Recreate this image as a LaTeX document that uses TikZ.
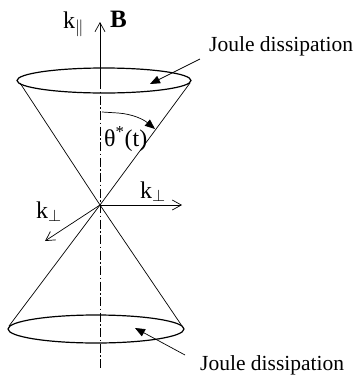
\RequirePackage{fix-cm}
\documentclass[tikz,border=0pt]{standalone}
\usepackage{fontspec}
\setmainfont{Liberation Serif}
\usetikzlibrary{arrows.meta,shapes.geometric}
\begin{document}
\begin{tikzpicture}[x=1pt,y=-1pt,
  thinl/.style={line width=0.7pt},
  ell/.style={draw, ellipse, line width=1.2pt, inner sep=0pt},
  barb/.style={thinl,-{Straight Barb[length=9pt,width=10pt]}},
  tri/.style={thinl,-{Triangle[length=10pt,width=8pt]}},
  lab/.style={inner sep=0pt, anchor=base west, font=\fontsize{24}{27}\selectfont},
  note/.style={inner sep=0pt, anchor=base west, font=\fontsize{21.5}{24}\selectfont},
]
\useasboundingbox (0,0) rectangle (356,376);
% key points
\coordinate (apex) at (100,205);
\coordinate (axtop) at (100,22);
\coordinate (axmid) at (100,80);
\coordinate (axbot) at (100,368);
\coordinate (ctl) at (20,83);
\coordinate (ctr) at (190,83);
\coordinate (cbl) at (9,326);
\coordinate (cbr) at (182,326);
% ellipses
\node[ell, minimum width=174pt, minimum height=25pt] (topell) at (104,80.5) {};
\node[ell, minimum width=176pt, minimum height=28pt] (botell) at (96,329) {};
% cone
\draw[thinl] (ctl) -- (apex) -- (cbr);
\draw[thinl] (ctr) -- (apex) -- (cbl);
% axis
\draw[barb] (axmid) -- (axtop);
\draw[thinl, dash pattern=on 9pt off 2.5pt on 1.5pt off 2.5pt] (axmid) -- (axbot);
% k perp arrows
\coordinate (kr) at (182,205);
\coordinate (kl) at (45,241);
\draw[barb] (apex) -- (kr);
\draw[barb] (apex) -- (kl);
% labels
\node[lab] (kpar) at (63,28) {k$_{\|}$};
\node[lab, font=\fontsize{25}{28}\selectfont\bfseries] (B) at (110,27) {B};
\node[lab] (theta) at (104,146) {θ\textsuperscript{*}(t)};
\node[lab] (kperpr) at (140,198) {k$_\perp$};
\node[lab] (kperpl) at (36,218) {k$_\perp$};
\node[note] (jtop) at (209,51) {Joule dissipation};
\node[note] (jbot) at (200,370) {Joule dissipation};
% theta arrow
\coordinate (th0) at (102,112);
\coordinate (th1) at (118,113);
\coordinate (th2) at (155,129);
\draw[tri] (th0) -- (th1) .. controls (132,114) and (143,119) .. (th2);
% Joule arrows
\coordinate (jt0) at (200,59);
\coordinate (jt1) at (150,84);
\coordinate (jb0) at (185,355);
\coordinate (jb1) at (135,328);
\draw[tri] (jt0) -- (jt1);
\draw[tri] (jb0) -- (jb1);
\end{tikzpicture}
\end{document}
